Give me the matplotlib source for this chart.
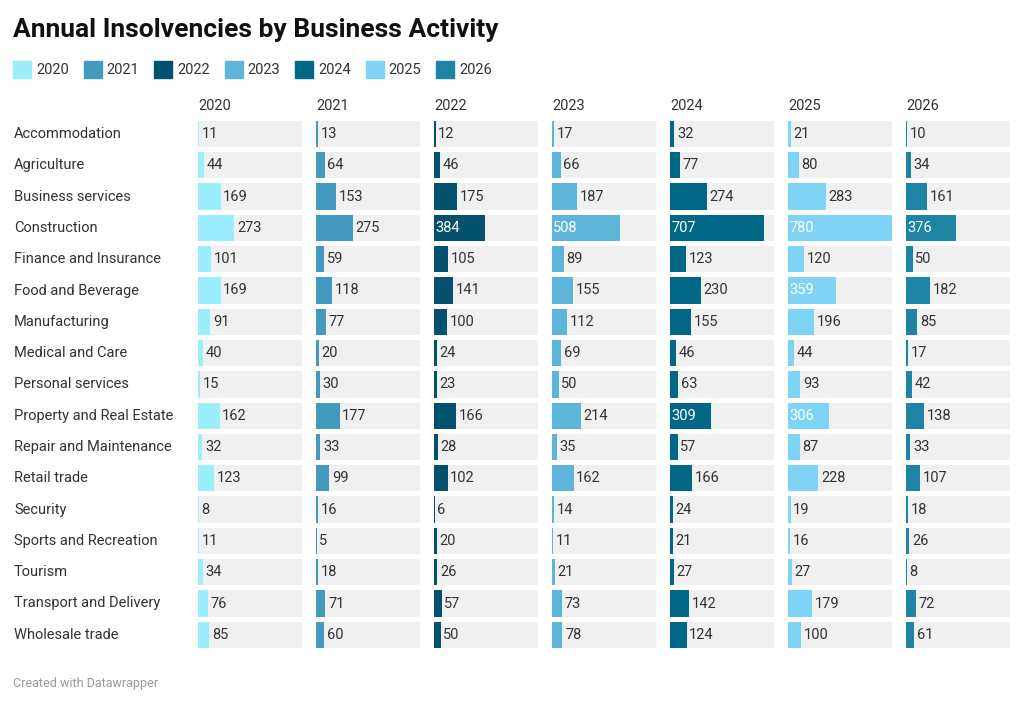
import matplotlib.pyplot as plt

categories = ["Accommodation", "Agriculture", "Business services", "Construction",
              "Finance and Insurance", "Food and Beverage", "Manufacturing",
              "Medical and Care", "Personal services", "Property and Real Estate",
              "Repair and Maintenance", "Retail trade", "Security",
              "Sports and Recreation", "Tourism", "Transport and Delivery",
              "Wholesale trade"]
years = ["2020", "2021", "2022", "2023", "2024", "2025", "2026"]
v2020 = [11, 44, 169, 273, 101, 169, 91, 40, 15, 162, 32, 123, 8, 11, 34, 76, 85]
v2021 = [13, 64, 153, 275, 59, 118, 77, 20, 30, 177, 33, 99, 16, 5, 18, 71, 60]
v2022 = [12, 46, 175, 384, 105, 141, 100, 24, 23, 166, 28, 102, 6, 20, 26, 57, 50]
v2023 = [17, 66, 187, 508, 89, 155, 112, 69, 50, 214, 35, 162, 14, 11, 21, 73, 78]
v2024 = [32, 77, 274, 707, 123, 230, 155, 46, 63, 309, 57, 166, 24, 21, 27, 142, 124]
v2025 = [21, 80, 283, 780, 120, 359, 196, 44, 93, 306, 87, 228, 19, 16, 27, 179, 100]
v2026 = [10, 34, 161, 376, 50, 182, 85, 17, 42, 138, 33, 107, 18, 26, 8, 72, 61]
series = [v2020, v2021, v2022, v2023, v2024, v2025, v2026]
colors = ["#9beefc", "#4499be", "#03516f", "#5eb5da", "#006786", "#7fd3f5", "#1d84a3"]

W, H = 1024, 705
fig = plt.figure(figsize=(W / 100, H / 100), dpi=100)
plt.rcParams['font.family'] = ['Roboto', 'DejaVu Sans']

fig.text(13 / W, 1 - 30 / H, "Annual Insolvencies by Business Activity", fontsize=19,
         fontweight='bold', va='center', color='#111111')

# legend
lx = 13
for y, c in zip(years, colors):
    fig.patches.append(plt.Rectangle((lx / W, 1 - 78 / H), 18 / W, 17 / H,
                                     transform=fig.transFigure, color=c))
    fig.text((lx + 23) / W, 1 - 70 / H, y, fontsize=10.5, va='center', color='#333333')
    lx += 70.5

# category labels
top, step = 134, 31.3
for i, cat in enumerate(categories):
    fig.text(14 / W, 1 - (top + i * step) / H, cat, fontsize=10.5, va='center', color='#333333')

n = len(categories)
xmax = 780
for j, (yr, vals, c) in enumerate(zip(years, series, colors)):
    left = 198 + j * 118
    ax = fig.add_axes([left / W, 1 - (top + (n - 0.5) * step) / H, 104 / W, n * step / H])
    ax.set_xlim(0, xmax)
    ax.set_ylim(n - 0.5, -0.5)
    ax.axis('off')
    ys = list(range(n))
    ax.barh(ys, [xmax] * n, height=0.84, color='#f0f0f0')
    ax.barh(ys, vals, height=0.84, color=c)
    for yy, v in zip(ys, vals):
        if v >= 300:
            ax.text(8, yy, str(v), color='white', va='center', fontsize=10.5)
        else:
            ax.text(v + 20, yy, str(v), color='#333333', va='center', fontsize=10.5)
    fig.text(left / W, 1 - 106 / H, yr, fontsize=10.5, va='center', color='#333333')

fig.text(13 / W, 1 - 683 / H, "Created with Datawrapper", fontsize=9, va='center', color='#999999')

fig.savefig("out.png", dpi=100)
